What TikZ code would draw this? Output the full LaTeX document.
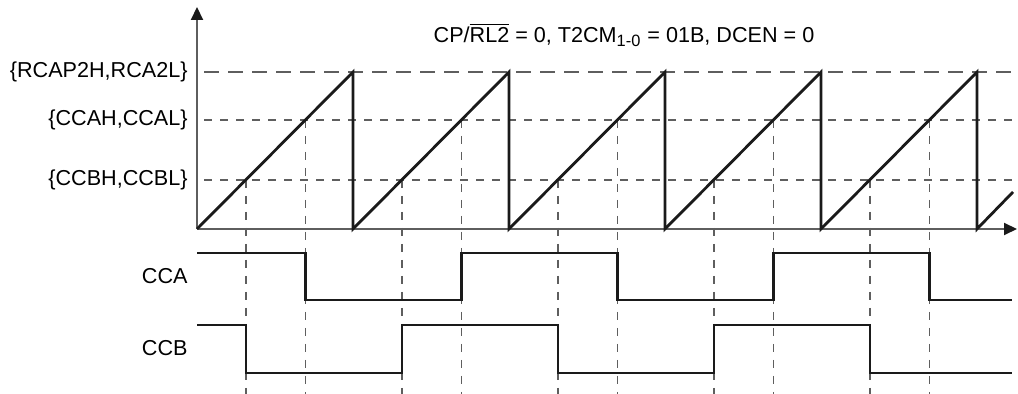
\documentclass[tikz,border=0pt]{standalone}
\usepackage{fontspec}
\setmainfont{Liberation Sans}
\usepackage{xcolor}
\usepackage{tikz}
\usetikzlibrary{arrows.meta}
\definecolor{gris}{HTML}{5E5E5E}
\definecolor{trazo}{HTML}{1A1A1A}

\begin{document}
\begin{tikzpicture}[x=0.5pt, y=-0.5pt, font=\fontsize{10.8}{12}\selectfont,
  eje/.style={-{Triangle[length=6.5pt,width=6pt,color=trazo]}, line width=1pt, color=gris},
  guia/.style={dash pattern=on 4pt off 4pt, line width=0.9pt, color=gris},
  rampa/.style={line width=1.4pt, color=trazo, line join=miter},
  senal/.style={line width=1.2pt, color=trazo},
  etq/.style={anchor=east, inner sep=0pt}]
  \useasboundingbox (0,0) rectangle (1018,394);
  % niveles de comparacion
  \draw[guia, dash pattern=on 7.5pt off 4.5pt] (204,72) -- (1016,72);
  \draw[guia] (204,120) -- (1016,120);
  \draw[guia] (204,180) -- (1016,180);
  % cruces con CCB y CCA
  \foreach \k in {0,...,4} {
    \draw[guia] (197+\k*156+48.8,180) -- ++(0,214);
    \draw[guia] (197+\k*156+108.4,120) -- ++(0,274);
  }
  % ejes
  \coordinate (o) at (197,229);
  \coordinate (ytop) at (197,7);
  \coordinate (xend) at (1017,229);
  \draw[eje] (o) -- (ytop);
  \draw[eje] (o) -- (xend);
  % contador en diente de sierra
  \draw[rampa] (o) \foreach \k in {1,...,5} { -- (197+\k*156,72) -- (197+\k*156,229) } -- (1013,192);
  % salidas
  \draw[senal] (197,253) -| (305.4,300) -| (461.4,253) -| (617.4,300) -| (773.4,253) -| (929.4,300) -- (1012,300);
  \draw[senal] (197,325) -| (245.8,373) -| (401.8,325) -| (557.8,373) -| (713.8,325) -| (869.8,373) -- (1012,373);
  % textos
  \node[etq] (rcap) at (188,72)  {\{RCAP2H,RCA2L\}};
  \node[etq] (ccah) at (188,120) {\{CCAH,CCAL\}};
  \node[etq] (ccbh) at (188,180) {\{CCBH,CCBL\}};
  \node[etq] (cca)  at (188,276) {CCA};
  \node[etq] (ccb)  at (188,348) {CCB};
  \node (modo) at (624,35) {CP/$\overline{\hbox{RL2}}$ = 0, T2CM$_{\hbox{\fontsize{8.2}{9}\selectfont 1-0}}$ = 01B, DCEN = 0};
\end{tikzpicture}
\end{document}
